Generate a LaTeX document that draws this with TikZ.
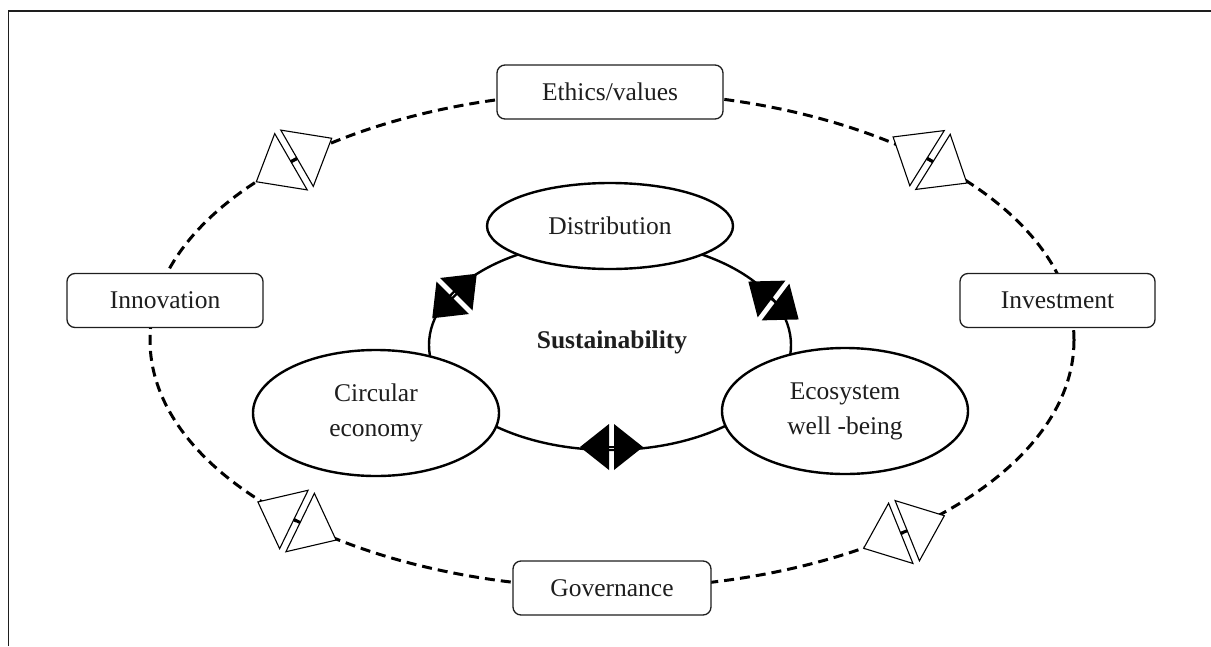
\documentclass[tikz,border=0pt]{standalone}
\usepackage{fontspec}
\setmainfont{Liberation Serif}
\usetikzlibrary{shapes.geometric}
\definecolor{ink}{HTML}{1E1E1E}
\begin{document}
\begin{tikzpicture}[x=1pt,y=-1pt,
  txt/.style={text=ink, font=\fontsize{25.5}{35}\selectfont},
  box/.style={txt, draw=ink, line width=1.3pt, rounded corners=8pt, fill=white, minimum height=54pt, inner sep=0pt},
  oval/.style={txt, ellipse, draw=black, line width=2.4pt, fill=white, inner sep=0pt, align=center, minimum width=246pt},
  dashring/.style={line width=3pt, dash pattern=on 10pt off 6pt},
  solidring/.style={line width=2.4pt},
  opentri/.style={fill=white, draw=black, line width=1.1pt, line join=miter},
  solidtri/.style={fill=black, draw=none},
  opensym/.pic={
    \path[opentri] (-3.5,-32.5) -- (-3.5,32.5) -- (-43.5,0) -- cycle;
    \path[opentri] (3.5,-32.5) -- (3.5,32.5) -- (43.5,0) -- cycle;
    \draw[line width=3pt] (-3.5,0) -- (3.5,0);
  },
  solidsym/.pic={
    \path[solidtri] (-2.5,-23) -- (-2.5,23) -- (-31.5,0) -- cycle;
    \path[solidtri] (2.5,-23) -- (2.5,23) -- (31.5,0) -- cycle;
    \draw[line width=2.4pt] (-3,0) -- (3,0);
  }
]
\useasboundingbox (0,0) rectangle (1211,646);
% frame
\draw[ink, line width=1.4pt] (8.5,646) -- (8.5,11) -- (1211,11);

% rings
\coordinate (outer) at (612,340);
\coordinate (inner) at (610,345);
\draw[dashring] (outer) ellipse (462 and 248);
\draw[solidring] (inner) ellipse (181 and 105);

% outer boxes
\node[box, minimum width=226pt] (ethics) at (610,92) {Ethics/values};
\node[box, minimum width=196pt] (innov) at (165,300.5) {Innovation};
\node[box, minimum width=195pt] (invest) at (1057.5,300.5) {Investment};
\node[box, minimum width=198pt] (gov) at (612,588) {Governance};

% open double arrows
\pic[rotate=30] at (294,160) {opensym};
\pic[rotate=-32] at (930,160) {opensym};
\pic[rotate=-26] at (297,521) {opensym};
\pic[rotate=22] at (904,532) {opensym};

% inner ellipses
\node[oval, minimum height=86pt] (dist) at (610,226) {Distribution};
\node[oval, minimum height=126pt] (circ) at (376,413) {Circular\\economy};
\node[oval, minimum height=126pt] (eco) at (845,411) {Ecosystem\\well -being};
\node[txt, font=\fontsize{25.5}{30}\selectfont\bfseries] (sus) at (612,342) {Sustainability};

% filled double arrows
\pic[rotate=45] at (454.5,296) {solidsym};
\pic[rotate=-37] at (773.5,300.5) {solidsym};
\pic[rotate=0] at (611.5,447) {solidsym};
\end{tikzpicture}
\end{document}
